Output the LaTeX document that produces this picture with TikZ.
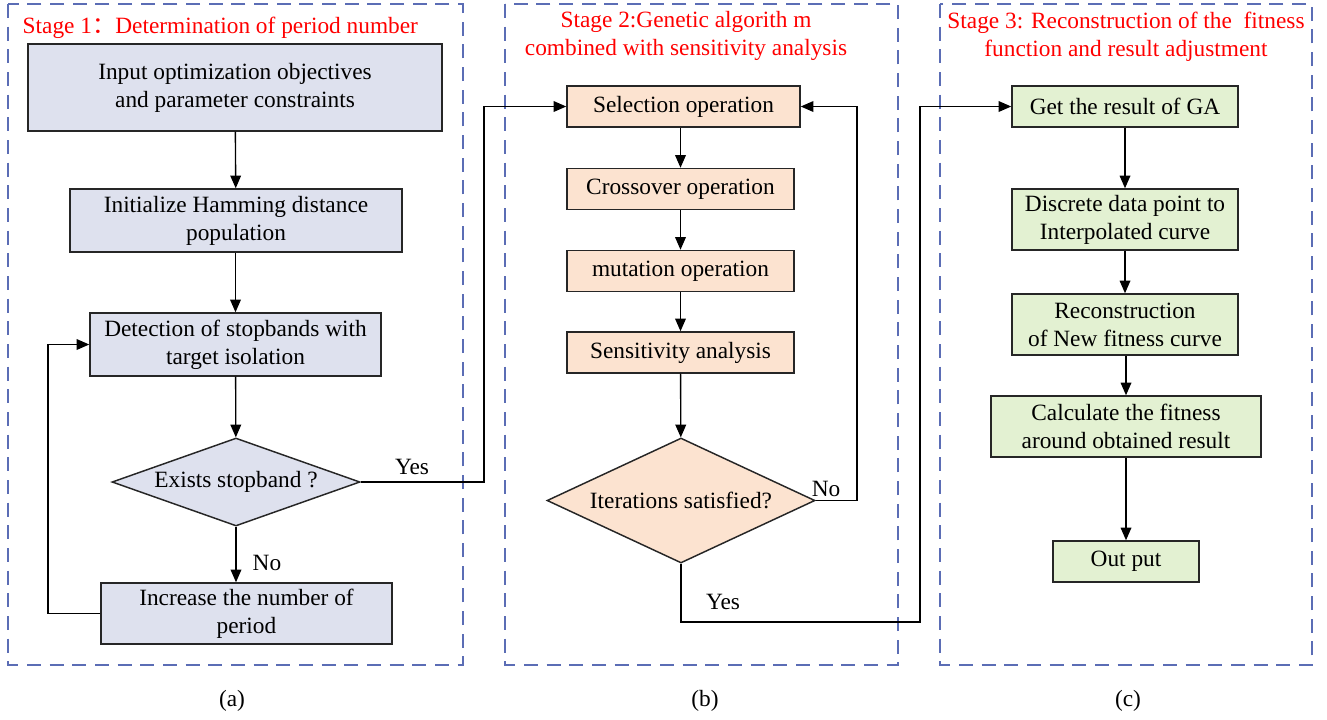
\documentclass[tikz,border=0pt]{standalone}
\usepackage{fontspec}
\setmainfont{Liberation Serif}
\newfontfamily\cjk{Noto Sans CJK SC}
\usetikzlibrary{shapes.geometric,arrows.meta}

\definecolor{frameblue}{HTML}{5B6DB5}
\definecolor{fillA}{HTML}{DEE1EE}
\definecolor{fillB}{HTML}{FCE3D0}
\definecolor{fillC}{HTML}{E3F1D2}

\tikzset{
  txt/.style={font=\fontsize{17.5}{21}\selectfont, align=center},
  box/.style={txt, draw=black!85, line width=1.1pt, inner sep=0pt},
  boxA/.style={box, fill=fillA},
  boxB/.style={box, fill=fillB},
  boxC/.style={box, fill=fillC},
  decision/.style={txt, diamond, draw=black!85, line width=1.1pt, inner sep=0pt},
  stageframe/.style={draw=frameblue, line width=1pt, dash pattern=on 10.5pt off 6.5pt},
  stagetitle/.style={txt, text=red},
  flow/.style={line width=1pt, -{Triangle[length=9.5pt,width=8pt]}},
  lbl/.style={txt}
}

\begin{document}
\begin{tikzpicture}[x=0.75pt,y=-0.75pt]
\useasboundingbox (0,0) rectangle (1327,719);

% stage frames
\draw[stageframe] (8,4) rectangle (463,665);
\draw[stageframe] (505,4) rectangle (898,665);
\draw[stageframe] (940,4) rectangle (1312,665);

% stage titles
\node[stagetitle, anchor=west] (t1) at (18,28) {Stage 1{\cjk ：}Determination of period number};
\node[stagetitle] (t2) at (686,36) {Stage 2:Genetic algorith m\\combined with sensitivity analysis};
\node[stagetitle] (t3) at (1126,37) {Stage 3: Reconstruction of the\ \ fitness\\function and result adjustment};

% stage 1
\node[boxA, minimum width=310.5pt, minimum height=65.25pt] (a1) at (235,87.5) {Input optimization objectives\\and parameter constraints};
\node[boxA, minimum width=249pt, minimum height=47.25pt] (a2) at (236,220.5) {Initialize Hamming distance\\population};
\node[boxA, minimum width=218.25pt, minimum height=47.25pt] (a3) at (235.5,344.5) {Detection of stopbands with\\target isolation};
\node[decision, fill=fillA, shape aspect=2.8, minimum width=186pt, minimum height=66pt] (a4) at (236,482) {Exists stopband ?};
\node[boxA, minimum width=218.25pt, minimum height=45.75pt] (a5) at (246.5,613.5) {Increase the number of\\period};

% stage 2
\node[boxB, minimum width=174.75pt, minimum height=30.75pt] (b1) at (683.5,106.5) {Selection operation};
\node[boxB, minimum width=170.25pt, minimum height=30.75pt] (b2) at (680.5,189) {Crossover operation};
\node[boxB, minimum width=170.25pt, minimum height=30.75pt] (b3) at (680.5,271) {mutation operation};
\node[boxB, minimum width=170.25pt, minimum height=30.75pt] (b4) at (680.5,352.5) {Sensitivity analysis};
\node[decision, fill=fillB, shape aspect=2.14, minimum width=201pt, minimum height=93.75pt] (b5) at (681,500.5) {Iterations satisfied?};

% stage 3
\node[boxC, minimum width=169.5pt, minimum height=30.75pt] (c1) at (1125,106.5) {Get the result of GA};
\node[boxC, minimum width=169.5pt, minimum height=45.75pt] (c2) at (1125,219.5) {Discrete data point to\\Interpolated curve};
\node[boxC, minimum width=169.5pt, minimum height=45.75pt] (c3) at (1125,324.5) {Reconstruction\\of New fitness curve};
\node[boxC, minimum width=202.5pt, minimum height=45.75pt] (c4) at (1126,426.5) {Calculate the fitness\\around obtained result};
\node[boxC, minimum width=109.5pt, minimum height=30.75pt] (c5) at (1126,561.5) {Out put};

% bend points
\coordinate (p1) at (48,613.5);
\coordinate (p2) at (484,482);
\coordinate (p3) at (857,500.5);
\coordinate (p4) at (681,622);
\coordinate (p5) at (920,622);

% connectors, stage 1
\draw[flow] (a1) -- (a2);
\draw[flow] (a2.south -| a3.north) -- (a3);
\draw[flow] (a3) -- (a4);
\draw[flow] (a4.south) -- (a4.south |- a5.north);
\draw[flow] (a5.west) -- (p1) |- (a3.west);
\draw[flow] (a4.east) -- (p2) |- (b1.west);

% connectors, stage 2
\draw[flow] (b1.south -| b2.north) -- (b2);
\draw[flow] (b2) -- (b3);
\draw[flow] (b3) -- (b4);
\draw[flow] (b4) -- (b5);
\draw[flow] (b5.east) -- (p3) |- (b1.east);
\draw[flow] (b5.south) -- (p4) -- (p5) |- (c1.west);

% connectors, stage 3
\draw[flow] (c1) -- (c2);
\draw[flow] (c2) -- (c3);
\draw[flow] (c3.south -| c4.north) -- (c4);
\draw[flow] (c4) -- (c5);

% branch labels
\node[lbl] (yes1) at (412,467) {Yes};
\node[lbl] (no1) at (267,563) {No};
\node[lbl] (no2) at (826,489) {No};
\node[lbl] (yes2) at (723,602) {Yes};

% sub-figure captions
\node[lbl] (capa) at (232,701) {(a)};
\node[lbl] (capb) at (705,701) {(b)};
\node[lbl] (capc) at (1128,701) {(c)};
\end{tikzpicture}
\end{document}
